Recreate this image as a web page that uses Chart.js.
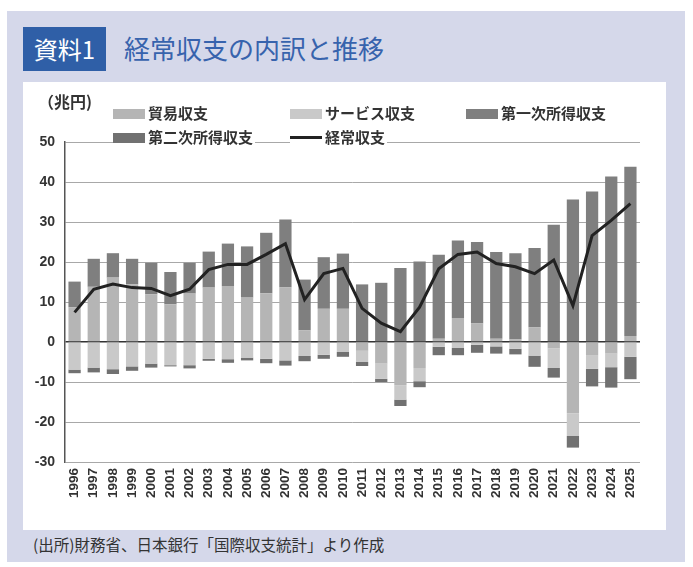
<!DOCTYPE html>
<html>
<head>
<meta charset="utf-8">
<script src="https://cdn.jsdelivr.net/npm/chart.js@4.4.1/dist/chart.umd.min.js"></script>
<style>
  body { margin: 0; background: #fff; width: 693px; height: 567px; position: relative; overflow: hidden;
         font-family: "Noto Sans CJK JP", "Noto Sans", sans-serif; }
  #panel { position: absolute; left: 7px; top: 11px; width: 678px; height: 551px; background: #d5d8ea; }
  #tag { position: absolute; left: 23px; top: 27px; width: 83px; height: 44px; background: #2f5fa7;
         color: #fff; font-size: 24px; line-height: 44px; text-align: center; }
  #title { position: absolute; left: 124px; top: 26px; height: 44px; line-height: 44px; color: #3763ad; font-size: 26px; }
  #box { position: absolute; left: 23px; top: 82px; width: 643px; height: 448px; background: #fff; }
  #unit { position: absolute; left: 38px; top: 89px; font-size: 16px; color: #333; font-weight: bold; }
  .lg { position: absolute; font-size: 15px; font-weight: bold; color: #333; height: 18px; line-height: 18px; background: #fff; padding-right: 2px; }
  .lg i { display: inline-block; width: 32px; height: 10px; vertical-align: 0px; margin-right: 3px; }
  #src { position: absolute; left: 33px; top: 533px; font-size: 15.5px; color: #333; }
  canvas { position: absolute; left: 23px; top: 82px; }
</style>
</head>
<body>
<div id="panel"></div>
<div id="tag">資料1</div>
<div id="title">経常収支の内訳と推移</div>
<div id="box"></div>
<canvas id="c" width="643" height="448"></canvas>
<div id="unit">（兆円)</div>
<div class="lg" style="left:113px;top:104px"><i style="background:#b5b5b5"></i>貿易収支</div>
<div class="lg" style="left:290px;top:104px"><i style="background:#c9c9c9"></i>サービス収支</div>
<div class="lg" style="left:466px;top:104px"><i style="background:#7f7f7f"></i>第一次所得収支</div>
<div class="lg" style="left:113px;top:128px"><i style="background:#717171"></i>第二次所得収支</div>
<div class="lg" style="left:290px;top:128px"><i style="background:#222;height:3px;vertical-align:4px"></i>経常収支</div>
<div id="src">(出所)財務省、日本銀行「国際収支統計」より作成</div>
<script>
const years = ['1996','1997','1998','1999','2000','2001','2002','2003','2004','2005',
               '2006','2007','2008','2009','2010','2011','2012','2013','2014','2015',
               '2016','2017','2018','2019','2020','2021','2022','2023','2024','2025'];
// 兆円
const trade = [8.7, 13.8, 16.1, 14.4, 11.9, 9.4, 12.1, 13.6, 14.0, 11.1,
               12.2, 13.7, 2.9, 8.3, 8.3, -2.2, -5.4, -10.8, -6.5, 0.8,
               6.0, 4.6, 0.8, 0.6, 3.7, -1.6, -17.9, -3.4, -2.9, 1.5];
const services = [-6.9, -6.4, -6.8, -6.1, -5.4, -5.8, -5.8, -4.2, -4.3, -3.9,
                  -4.2, -4.6, -3.5, -3.2, -2.5, -2.8, -3.8, -3.6, -3.3, -1.2,
                  -1.5, -0.7, -1.1, -1.7, -3.4, -4.9, -5.6, -3.3, -3.4, -3.7];
const primary = [6.4, 7.0, 6.1, 6.4, 7.9, 8.1, 7.7, 9.0, 10.6, 12.8,
                 15.1, 16.9, 12.7, 12.9, 13.8, 14.4, 14.8, 18.5, 20.1, 21.0,
                 19.4, 20.4, 21.7, 21.6, 19.8, 29.3, 35.6, 37.6, 41.4, 42.3];
const secondary = [-0.9, -1.2, -1.2, -1.1, -1.0, -0.3, -0.8, -0.5, -0.9, -0.7,
                   -1.1, -1.3, -1.3, -1.0, -1.2, -1.0, -0.8, -1.6, -1.5, -2.1,
                   -1.8, -2.0, -1.8, -1.4, -2.8, -2.4, -2.9, -4.4, -5.1, -5.6];
const currentAcct = [7.4, 13.2, 14.5, 13.6, 13.4, 11.6, 13.2, 18.1, 19.4, 19.4,
                     21.9, 24.6, 10.6, 17.1, 18.4, 8.4, 4.7, 2.6, 8.7, 18.3,
                     21.9, 22.5, 19.6, 18.8, 17.1, 20.5, 9.1, 26.6, 30.4, 34.6];
const yTicks = [50, 40, 30, 20, 10, 0, -10, -20, -30];

const numFont = { family: 'Liberation Sans, Arial, sans-serif', size: 14, weight: 'bold' };

new Chart(document.getElementById('c'), {
  type: 'bar',
  data: {
    labels: years,
    datasets: [
      { type: 'line', label: '経常収支', data: currentAcct, borderColor: '#222', borderWidth: 3,
        pointRadius: 0, stack: 'ca', order: 0, tension: 0 },
      { label: '貿易収支', data: trade, backgroundColor: '#b5b5b5', stack: 'bop', order: 1 },
      { label: 'サービス収支', data: services, backgroundColor: '#c9c9c9', stack: 'bop', order: 1 },
      { label: '第一次所得収支', data: primary, backgroundColor: '#7f7f7f', stack: 'bop', order: 1 },
      { label: '第二次所得収支', data: secondary, backgroundColor: '#717171', stack: 'bop', order: 1 }
    ]
  },
  options: {
    responsive: false,
    animation: false,
    layout: { padding: { top: 60, right: 26, left: 0, bottom: 0 } },
    datasets: { bar: { categoryPercentage: 0.64, barPercentage: 1 } },
    plugins: { legend: { display: false }, tooltip: { enabled: false } },
    scales: {
      x: {
        stacked: true,
        grid: { display: false, drawTicks: false },
        border: { display: false },
        ticks: { color: '#333', font: { ...numFont, size: 13.5 }, autoSkip: false,
                 maxRotation: 90, minRotation: 90, padding: 6 },
        afterFit: s => { s.height = 68; }
      },
      y: {
        stacked: true,
        min: -30, max: 50,
        afterBuildTicks: s => { s.ticks = yTicks.map(v => ({ value: v })); },
        afterFit: s => { s.width = 42; },
        grid: {
          drawTicks: false,
          color: c => c.tick && c.tick.value === 0 ? '#333' : '#a8a8a8',
          lineWidth: c => c.tick && c.tick.value === 0 ? 1.5 : 1
        },
        border: { display: true, color: '#555', width: 1.5 },
        ticks: { color: '#333', font: numFont, padding: 10 }
      }
    }
  }
});
</script>
</body>
</html>
